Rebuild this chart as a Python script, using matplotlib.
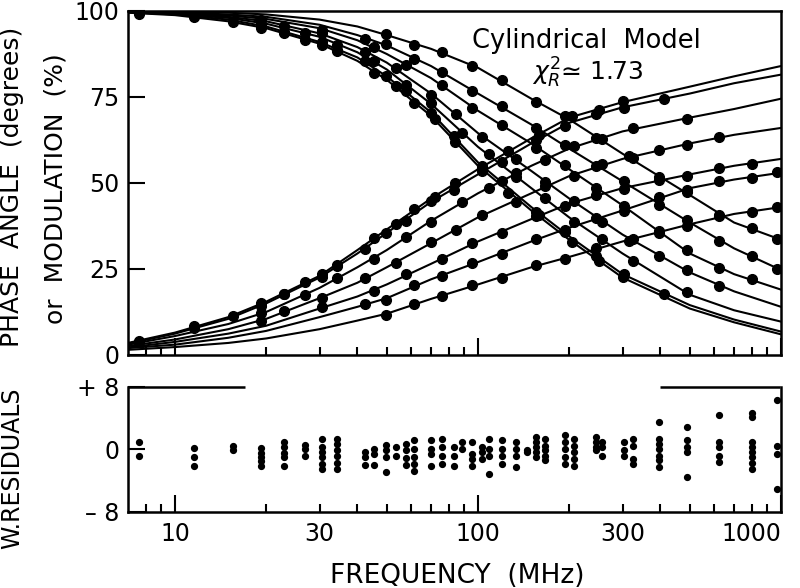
import numpy as np
import matplotlib.pyplot as plt

# fitted curves at these frequencies (MHz)
freq_grid = [7, 10, 15, 20, 30, 40, 50, 70, 100, 150, 200, 300, 500, 700, 1000]

phase_fits = [
    [3.5, 6.5, 11, 15.5, 23, 30.5, 36.5, 45.5, 54, 63, 69, 73.5, 78, 81, 84],
    [3.3, 6.2, 10.5, 15, 22.5, 29.5, 35.5, 44.5, 52.5, 61.5, 67.5, 72, 76, 79, 81.5],
    [3, 5.5, 9, 12.5, 19.5, 25.5, 30.5, 39, 47, 55, 60, 65, 69, 71.5, 74.5],
    [2.6, 4.5, 7.5, 10.5, 16.5, 21, 25.5, 32.5, 40, 47, 52, 57, 61.5, 64, 66],
    [2.2, 3.8, 6.2, 8.5, 13.5, 17, 20.5, 26.5, 33, 39.5, 44, 48.5, 52.5, 55, 57],
    [2, 3, 5, 7, 11, 14, 16.5, 22, 27, 33, 37, 42, 48.5, 51, 53],
    [1.5, 2.3, 3.5, 4.8, 7.5, 10, 12, 16.3, 20.5, 25.5, 28.5, 33, 38, 41, 43],
]
mod_fits = [
    [99.5, 98.8, 97, 95, 90.5, 85.5, 80, 69.5, 55, 42, 33.5, 22.5, 13.5, 9.5, 6],
    [99.6, 99, 97.5, 95.5, 91, 86.5, 81, 70.5, 56, 43, 34.5, 23.5, 14.5, 10.3, 6.8],
    [99.7, 99.1, 98, 96.3, 92.5, 88, 83, 73, 60.5, 48.5, 40, 29.5, 17.5, 13, 9.7],
    [99.8, 99.3, 98.3, 97, 93.5, 89.5, 85, 76, 64.5, 53.5, 45.5, 35, 24, 18.5, 14],
    [99.9, 99.5, 98.7, 97.7, 95, 91.5, 87.5, 80.5, 71, 61.5, 54, 43.5, 29.5, 23.5, 19],
    [100, 99.6, 99, 98.3, 96, 93, 90, 84, 76, 67, 60, 50.5, 38.5, 31, 24.7],
    [100, 99.8, 99.5, 99, 97.5, 95.5, 93, 89, 83.5, 74.5, 68.5, 58.5, 46.5, 38.5, 33.5],
]

# measured points, one frequency list per data set
dot_freqs = [
    [7.6, 11.6, 15.5, 19.3, 22.9, 26.9, 30.5, 34.3, 45.3, 53.5, 61.5, 72, 84, 103, 126, 159, 204, 250, 300],
    [7.6, 11.6, 19.3, 22.9, 30.5, 34.3, 42.4, 49.6, 57.7, 69.9, 83.3, 103, 120, 155, 194, 245, 304, 410],
    [19.3, 26.9, 34.3, 45.3, 57.7, 69.9, 88.6, 109, 133, 167, 207, 257, 325, 490],
    [19.3, 22.9, 30.5, 42.4, 53.5, 69.9, 84.5, 103, 133, 167, 207, 257, 325, 396, 490, 626],
    [30.5, 45.3, 57.7, 76.3, 95.6, 120, 155, 194, 245, 304, 396, 490, 626, 801],
    [42.4, 49.6, 61.5, 76.3, 95.6, 120, 155, 194, 245, 304, 396, 490, 626, 801, 971],
    [49.6, 61.5, 76.3, 95.6, 120, 155, 194, 245, 314, 396, 490, 626, 801, 971],
]
phase_dots = [
    [4.2, 8.3, 11.4, 15.1, 17.8, 21.2, 23.6, 26.2, 34.1, 38.0, 42.3, 46.0, 50.1, 54.5, 59.4, 64.0, 69.5, 71.3, 73.8],
    [3.8, 7.9, 14.2, 17.7, 22.6, 26.0, 30.8, 35.6, 39.0, 44.8, 48.1, 53.5, 56.2, 62.5, 66.5, 70.1, 71.8, 74.3],
    [12.3, 17.4, 22.5, 28.0, 34.4, 38.7, 44.6, 48.4, 52.9, 56.6, 60.7, 62.8, 65.9, 68.5],
    [9.8, 12.7, 16.6, 22.5, 26.6, 32.8, 36.2, 40.8, 44.6, 49.2, 52.1, 55.4, 57.4, 59.7, 61.1, 63.5],
    [13.9, 18.7, 23.4, 27.8, 32.5, 35.6, 40.3, 43.2, 46.6, 48.3, 51.0, 52.0, 54.5, 55.5],
    [14.9, 16.1, 20.2, 22.9, 26.7, 29.4, 33.8, 36.3, 39.8, 41.9, 45.8, 47.9, 50.5, 51.5, 53.1],
    [11.7, 14.9, 17.0, 20.3, 22.5, 26.1, 27.9, 31.1, 33.1, 36.0, 37.5, 40.3, 41.5, 43.1],
]
mod_dots = [
    [99.2, 98.3, 96.9, 95.0, 93.7, 91.5, 90.0, 88.4, 82.0, 78.2, 73.2, 68.7, 61.8, 54.5, 47.2, 40.6, 32.7, 27.2, 22.8],
    [99.6, 98.6, 95.9, 93.8, 90.9, 88.6, 85.4, 81.0, 76.8, 70.3, 63.7, 54.8, 50.5, 41.7, 35.7, 28.7, 23.6, 17.8],
    [96.3, 93.7, 90.2, 85.5, 78.4, 73.3, 64.5, 58.3, 51.8, 45.7, 38.8, 33.8, 27.3, 18.3],
    [97.4, 95.6, 93.5, 88.0, 83.5, 75.7, 70.2, 63.4, 57.1, 50.2, 44.9, 38.7, 33.6, 28.8, 24.7, 20.0],
    [94.6, 89.6, 84.2, 78.5, 71.9, 67.0, 60.3, 55.1, 48.5, 43.4, 35.6, 30.4, 25.2, 22.1],
    [92.0, 90.4, 86.0, 82.4, 76.7, 72.3, 65.9, 61.1, 55.0, 50.5, 43.7, 39.3, 33.2, 28.9, 25.0],
    [93.3, 90.2, 88.0, 83.9, 79.8, 73.5, 69.5, 63.2, 57.7, 51.7, 47.3, 40.8, 36.9, 33.6],
]

# weighted residuals, one column of points per frequency
resid_freqs = [7.6, 11.6, 15.5, 19.3, 22.9, 26.9, 30.5, 34.3, 42.4, 45.3, 49.6, 53.5,
               57.7, 61.5, 69.9, 76.3, 83.3, 88.6, 95.6, 103, 109, 120, 133, 145,
               155, 167, 194, 207, 245, 257, 304, 325, 396, 490, 626, 801, 971]
resid_values = [
    [0.9, -0.8], [0.2, -1, -2.1], [0.4, -0.1], [0.2, -0.4, -1, -1.5, -2.1],
    [0.9, 0.3, -0.4, -1, -2.1], [0.6, 0, -0.8], [1.4, 0.3, -0.3, -1, -1.8, -2.5],
    [1.4, 0.7, -0.1, -0.8, -1.7, -2.5], [-0.3, -1, -2], [0.1, -0.6, -2],
    [0.6, -0.1, -1, -2.9], [0.3, -0.8], [0.7, -0.1, -1.1, -2],
    [1.2, 0.1, -1, -1.8, -2.7], [1.2, 0.1, -0.6, -2.1], [1.4, 0.3, -0.8, -1.8],
    [0.3, -0.8, -2.1], [0.9, 0.1], [0.9, -0.6, -1.2, -2.1], [0.3, -0.3, -1.2],
    [1.4, 0.1, -0.8, -3.2], [1.2, 0.1, -0.8, -1.8], [0.9, 0.1, -0.8, -2.3],
    [-0.1, -0.3], [1.6, 0.9, 0.3, -0.3, -1], [1.4, 0.5, -0.1, -0.8, -1.4],
    [1.8, 0.9, 0.1, -1, -1.8], [1.4, 0.5, -0.3, -1.2, -2.1], [1.6, 0.9, 0.3, -0.1],
    [0.9, 0.3, -0.8], [0.9, -0.1, -0.8], [1.4, 0.5, -1.2, -1.8],
    [3.5, 1.4, 0.7, 0.1, -0.8, -1.4, -2.3], [2.9, 1.2, 0.3, -0.3, -3.5],
    [4.4, 0.9, 0.3, -0.8, -1.6], [4.7, 4.1, 0.9, 0.3, -0.3, -1, -1.7, -2.5],
    [6.3, 0.5, -0.6, -5],
]

plt.rcParams['font.family'] = 'DejaVu Sans'
plt.rcParams['mathtext.fontset'] = 'dejavusans'

fig = plt.figure(figsize=(8, 5.88), dpi=100)
ax1 = fig.add_axes([0.16, 0.3963, 0.81625, 0.585])
ax2 = fig.add_axes([0.16, 0.1293, 0.81625, 0.2126])

for fit in phase_fits + mod_fits:
    ax1.plot(freq_grid, fit, 'k-', lw=1.5)
for f, p, m in zip(dot_freqs, phase_dots, mod_dots):
    ax1.plot(f, p, 'ko', ms=7)
    ax1.plot(f, m, 'ko', ms=7)

for f, vals in zip(resid_freqs, resid_values):
    ax2.plot([f] * len(vals), vals, 'ko', ms=4.2)

minor_pos = [8, 9, 20, 30, 40, 50, 60, 70, 80, 90,
             200, 300, 400, 500, 600, 700, 800, 900]
for ax in (ax1, ax2):
    ax.set_xscale('log')
    ax.set_xlim(7, 990)
    ax.set_xticks([10, 100, 1000])
    ax.set_xticks(minor_pos, minor=True)
    ax.tick_params(axis='x', which='major', direction='in', length=12, width=1.5,
                   labelsize=17, pad=7)
    ax.tick_params(axis='x', which='minor', direction='in', length=6, width=1.5,
                   labelsize=17, pad=7)
    ax.tick_params(axis='y', direction='in', length=12, width=1.5, labelsize=17, pad=6)
    for s in ax.spines.values():
        s.set_linewidth(1.8)

ax1.set_ylim(0, 100)
ax1.set_yticks([0, 25, 50, 75, 100])
ax1.tick_params(axis='x', which='both', labelbottom=False)

ax2.set_ylim(-8, 8)
ax2.set_yticks([-8, 0, 8], ['\u2013 8', '0', '+ 8'])
ax2.set_xticks([10, 100, 1000], ['10', '100', '1000'])
ax2.set_xticks(minor_pos, ['30' if v == 30 else '300' if v == 300 else '' for v in minor_pos],
               minor=True)
ax2.get_xticklabels()[-1].set_horizontalalignment('right')
ax2.spines['top'].set_visible(False)
ax2.hlines([8, 8], [7, 400], [17, 990], colors='k', lw=1.8, clip_on=False)

fig.text(0.015, 1 - 187 / 588, 'PHASE  ANGLE  (degrees)', rotation=90,
         ha='center', va='center', fontsize=18)
fig.text(0.069, 1 - 189 / 588, 'or  MODULATION  (%)', rotation=90,
         ha='center', va='center', fontsize=18)
fig.text(0.015, 1 - 468 / 588, 'W.RESIDUALS', rotation=90,
         ha='center', va='center', fontsize=17)
fig.text(457 / 800, 1 - 576 / 588, 'FREQUENCY  (MHz)', ha='center', va='center',
         fontsize=19)
fig.text(586 / 800, 1 - 41 / 588, 'Cylindrical  Model', ha='center', va='center',
         fontsize=18.5)
fig.text(588 / 800, 1 - 73 / 588, r'$\chi^2_R$' + '\u2243 1.73', ha='center',
         va='center', fontsize=18)

fig.savefig('out.png', dpi=100)
